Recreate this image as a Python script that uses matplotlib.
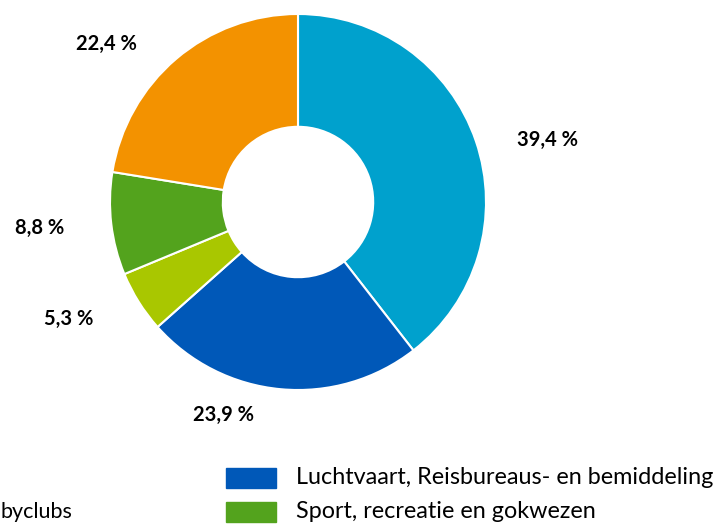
import numpy as np
import matplotlib.pyplot as plt

# slices, clockwise from the top
shares = [39.4, 23.9, 5.3, 8.8, 22.4]
share_labels = ["39,4 %", "23,9 %", "5,3 %", "8,8 %", "22,4 %"]
colors = ["#00a1cd", "#0058b8", "#a9c700", "#53a31d", "#f39200"]

# legend entries visible in the cropped picture
legend_right = ["Luchtvaart, Reisbureaus- en bemiddeling", "Sport, recreatie en gokwezen"]
legend_right_colors = ["#0058b8", "#53a31d"]
legend_left_cut = "byclubs"

W, H = 716, 524
cx, cy, R = 298, 202, 188  # pie centre and radius in pixels

plt.rcParams['font.family'] = ['Lato', 'DejaVu Sans']
fig = plt.figure(figsize=(W / 100, H / 100), dpi=100)
ax = fig.add_axes([0, 0, 1, 1])

wedges, _ = ax.pie(shares, colors=colors, startangle=90, counterclock=False,
                   radius=1, wedgeprops=dict(width=0.6, edgecolor='white', linewidth=1.5))
ax.set_xlim(-cx / R, (W - cx) / R)
ax.set_ylim(-(H - cy) / R, cy / R)
ax.set_aspect('auto')
ax.axis('off')

# label placement: distance factor and angle nudge per slice
dist = [1.37, 1.2, 1.37, 1.38, 1.32]
nudge = [-5, -14, -5, -1, 10]
for w, lab, d, n in zip(wedges, share_labels, dist, nudge):
    a = np.deg2rad((w.theta1 + w.theta2) / 2 + n)
    ax.text(d * np.cos(a), d * np.sin(a), lab, ha='center', va='center',
            fontsize=14.5, fontweight='bold', color='black')

# legend, manually laid out (cut off at the left edge)
rows_y = [478, 512]
for y, lab, c in zip(rows_y, legend_right, legend_right_colors):
    fig.patches.append(plt.Rectangle((226 / W, 1 - (y + 10) / H), 50 / W, 20 / H,
                                     transform=fig.transFigure, color=c))
    fig.text(296 / W, 1 - y / H, lab, ha='left', va='center', fontsize=16.8)
fig.text(1 / W, 1 - rows_y[1] / H, legend_left_cut, ha='left', va='center', fontsize=15.5)

fig.savefig('out.png', dpi=100)
